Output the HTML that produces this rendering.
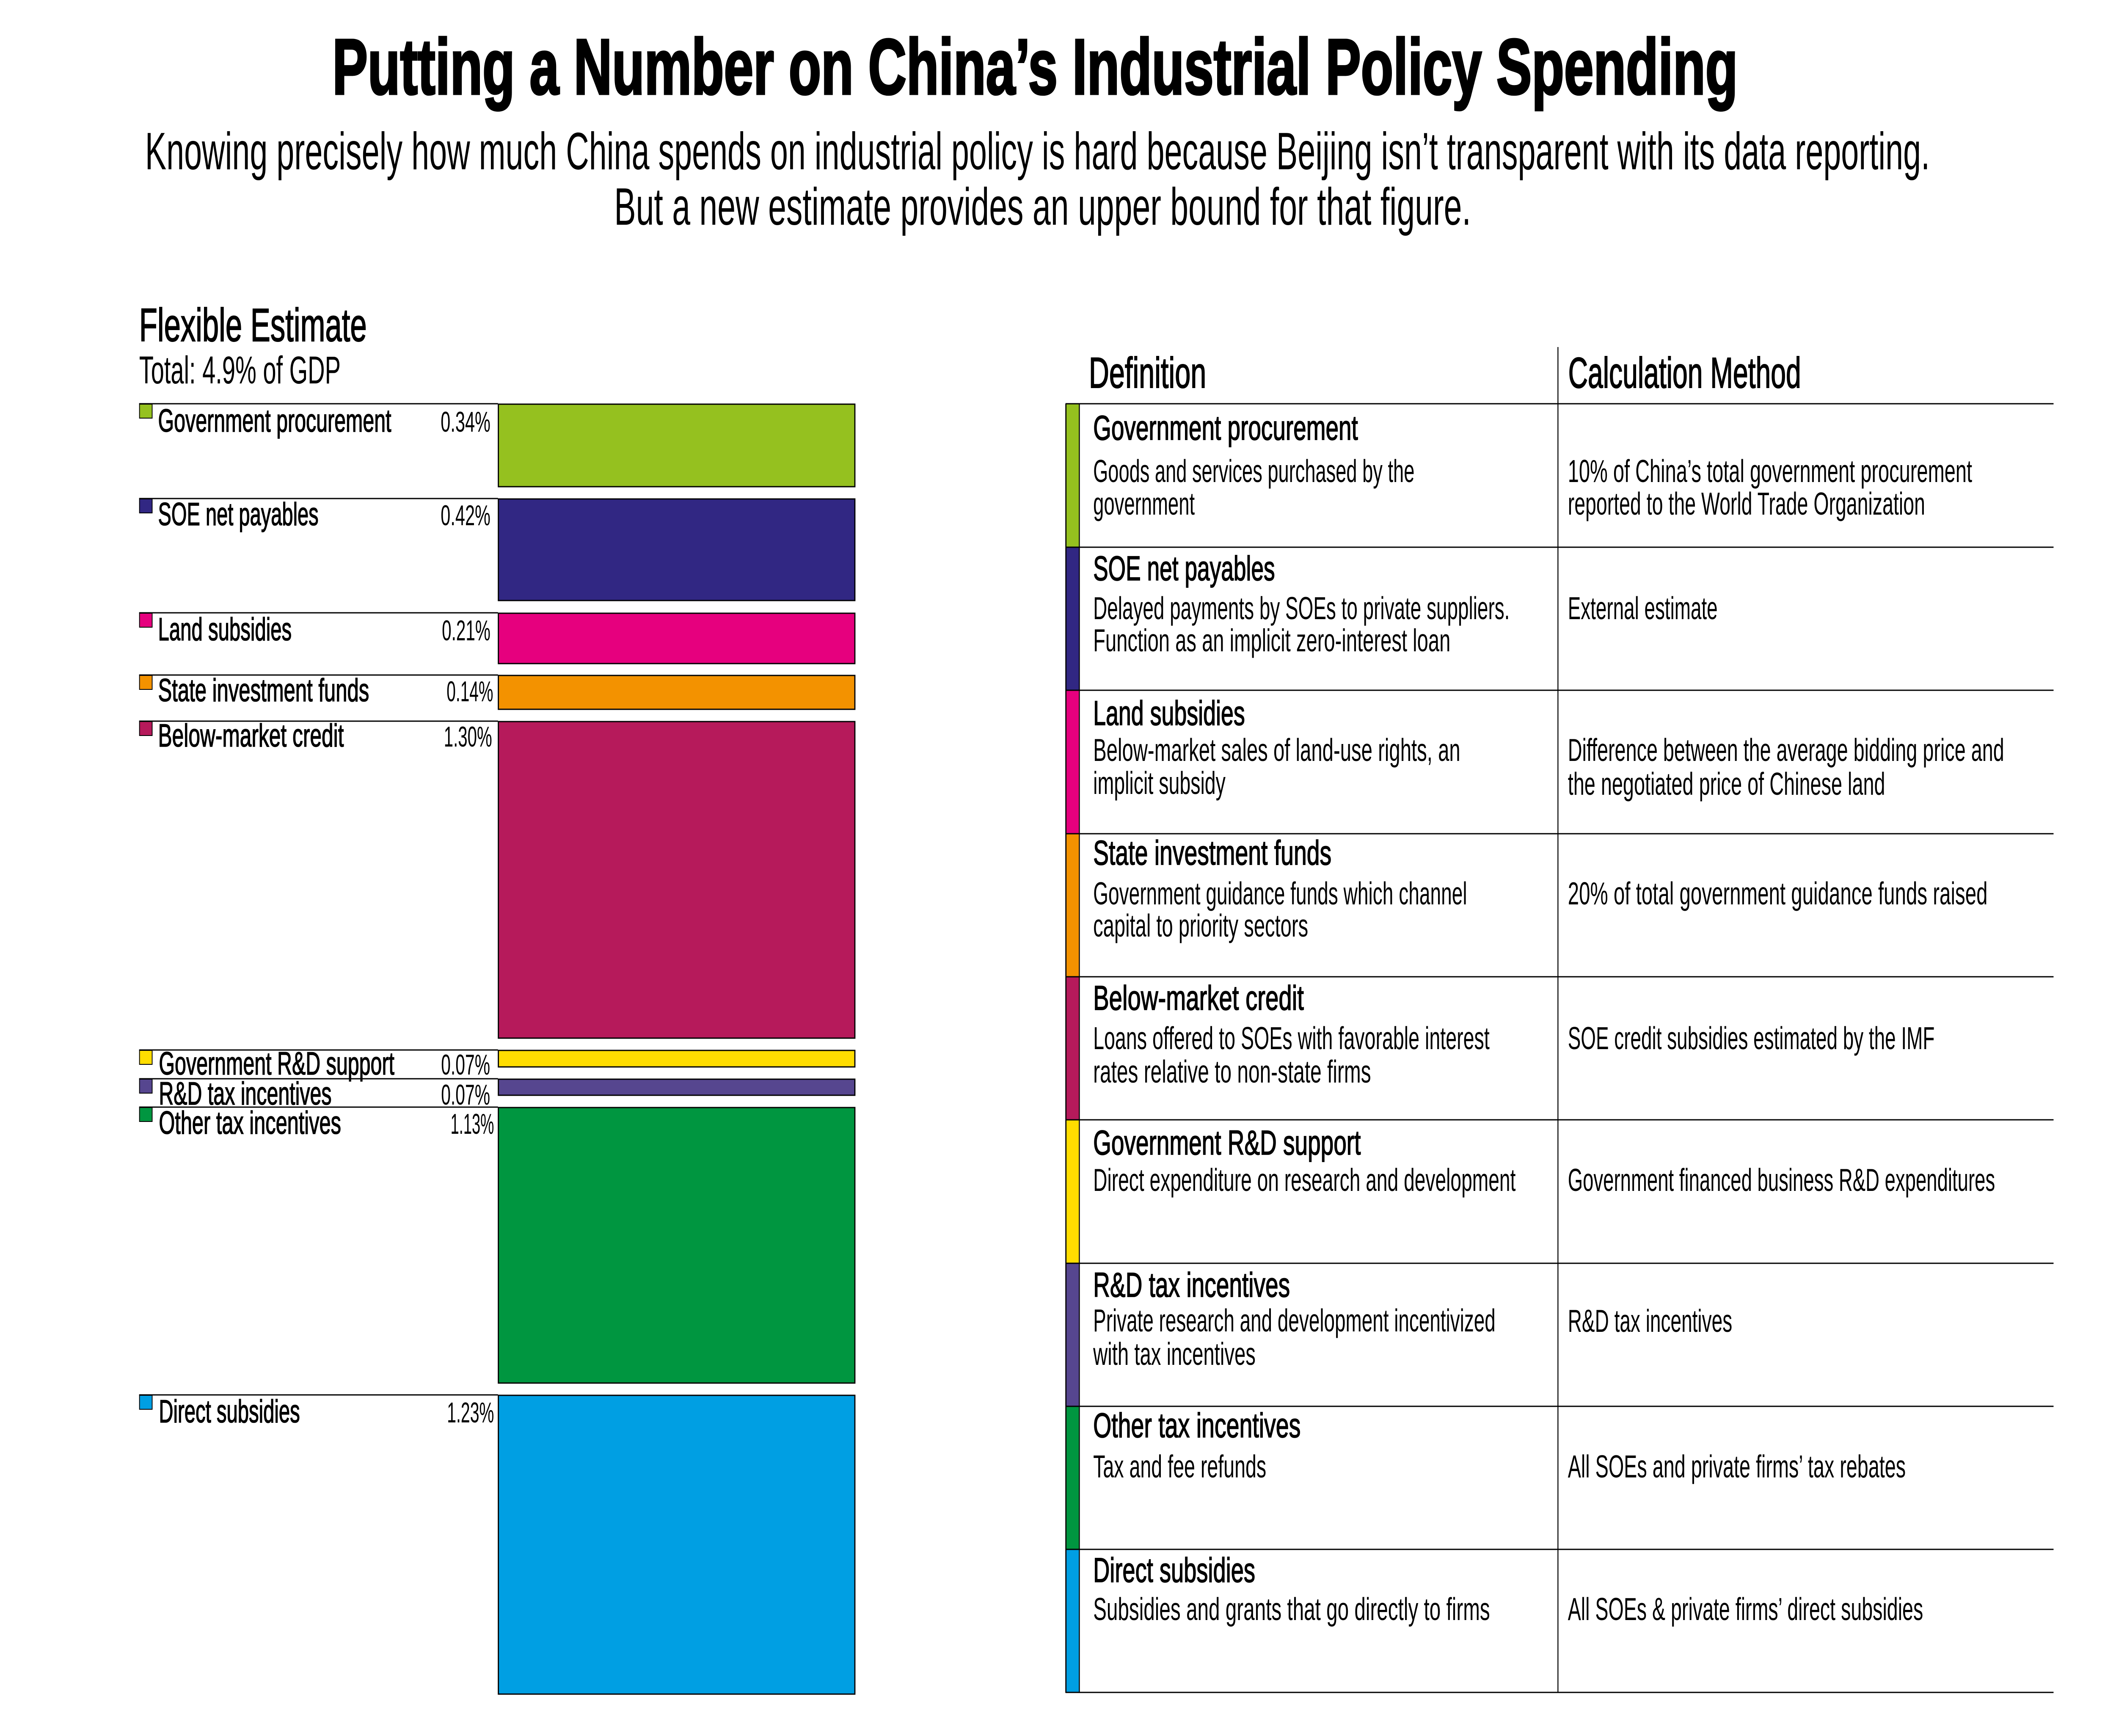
<!DOCTYPE html>
<html>
<head>
<meta charset="utf-8">
<style>
html,body{margin:0;padding:0;background:#fff;width:100%;height:100%;overflow:hidden;}
svg{display:block;width:100vw;height:100vh;position:absolute;left:0;top:0;}
text{font-family:"Liberation Sans Narrow","Liberation Sans",sans-serif;fill:#000;}
.ttl{font-weight:bold;font-size:186px;stroke:#000;stroke-width:5px;}
.sub{font-size:124px;}
.hd{font-size:110px;stroke:#000;stroke-width:2px;}
.tot{font-size:92px;}
.lab{font-size:76px;stroke:#000;stroke-width:1.6px;}
.pct{font-size:68px;}
.th{font-size:102px;stroke:#000;stroke-width:2px;}
.rt{font-size:82px;stroke:#000;stroke-width:1.8px;}
.ds{font-size:75px;}
</style>
</head>
<body>
<svg xmlns="http://www.w3.org/2000/svg" viewBox="0 0 5354 4102" preserveAspectRatio="none">
<rect x="0" y="0" width="5354" height="4102" fill="#fff"/>

<!-- Title & subtitle -->
<text class="ttl" x="841" y="222" textLength="3556" lengthAdjust="spacingAndGlyphs">Putting a Number on China’s Industrial Policy Spending</text>
<text class="sub" x="367" y="400" textLength="4516" lengthAdjust="spacingAndGlyphs">Knowing precisely how much China spends on industrial policy is hard because Beijing isn’t transparent with its data reporting.</text>
<text class="sub" x="1554" y="531" textLength="2168" lengthAdjust="spacingAndGlyphs">But a new estimate provides an upper bound for that figure.</text>

<!-- Left chart headings -->
<text class="hd" x="352" y="806" textLength="576" lengthAdjust="spacingAndGlyphs">Flexible Estimate</text>
<text class="tot" x="352" y="906" textLength="510" lengthAdjust="spacingAndGlyphs">Total: 4.9% of GDP</text>

<!-- Left chart rows -->
<g stroke="#000">
  <line x1="352" y1="954" x2="1260" y2="954" stroke-width="3"/>
  <line x1="352" y1="1178" x2="1260" y2="1178" stroke-width="3"/>
  <line x1="352" y1="1448" x2="1260" y2="1448" stroke-width="3"/>
  <line x1="352" y1="1595" x2="1260" y2="1595" stroke-width="3"/>
  <line x1="352" y1="1704" x2="1260" y2="1704" stroke-width="3"/>
  <line x1="352" y1="2481" x2="1260" y2="2481" stroke-width="3"/>
  <line x1="352" y1="2549" x2="1260" y2="2549" stroke-width="3"/>
  <line x1="352" y1="2616" x2="1260" y2="2616" stroke-width="3"/>
  <line x1="352" y1="3296" x2="1260" y2="3296" stroke-width="3"/>

  <rect x="353" y="955" width="32" height="33" fill="#95C11F" stroke-width="2"/>
  <rect x="353" y="1179" width="32" height="33" fill="#312783" stroke-width="2"/>
  <rect x="353" y="1449" width="32" height="33" fill="#E6007E" stroke-width="2"/>
  <rect x="353" y="1596" width="32" height="33" fill="#F39200" stroke-width="2"/>
  <rect x="353" y="1705" width="32" height="33" fill="#B61A5B" stroke-width="2"/>
  <rect x="353" y="2482" width="32" height="33" fill="#FFDD00" stroke-width="2"/>
  <rect x="353" y="2550" width="32" height="33" fill="#56468F" stroke-width="2"/>
  <rect x="353" y="2617" width="32" height="33" fill="#009640" stroke-width="2"/>
  <rect x="353" y="3297" width="32" height="33" fill="#009FE3" stroke-width="2"/>

  <rect x="1261" y="955" width="902" height="195" fill="#95C11F" stroke-width="3"/>
  <rect x="1261" y="1179" width="902" height="240" fill="#312783" stroke-width="3"/>
  <rect x="1261" y="1449" width="902" height="119" fill="#E6007E" stroke-width="3"/>
  <rect x="1261" y="1596" width="902" height="80" fill="#F39200" stroke-width="3"/>
  <rect x="1261" y="1705" width="902" height="748" fill="#B61A5B" stroke-width="3"/>
  <rect x="1261" y="2482" width="902" height="39" fill="#FFDD00" stroke-width="3"/>
  <rect x="1261" y="2550" width="902" height="38" fill="#56468F" stroke-width="3"/>
  <rect x="1261" y="2617" width="902" height="651" fill="#009640" stroke-width="3"/>
  <rect x="1261" y="3297" width="902" height="706" fill="#009FE3" stroke-width="3"/>
</g>

<!-- left labels -->
<text class="lab" x="400" y="1020" textLength="590" lengthAdjust="spacingAndGlyphs">Government procurement</text>
<text class="lab" x="400" y="1241" textLength="406" lengthAdjust="spacingAndGlyphs">SOE net payables</text>
<text class="lab" x="400" y="1513" textLength="338" lengthAdjust="spacingAndGlyphs">Land subsidies</text>
<text class="lab" x="400" y="1657" textLength="534" lengthAdjust="spacingAndGlyphs">State investment funds</text>
<text class="lab" x="400" y="1764" textLength="470" lengthAdjust="spacingAndGlyphs">Below-market credit</text>
<text class="lab" x="402" y="2539" textLength="596" lengthAdjust="spacingAndGlyphs">Government R&amp;D support</text>
<text class="lab" x="402" y="2610" textLength="437" lengthAdjust="spacingAndGlyphs">R&amp;D tax incentives</text>
<text class="lab" x="402" y="2679" textLength="461" lengthAdjust="spacingAndGlyphs">Other tax incentives</text>
<text class="lab" x="402" y="3361" textLength="357" lengthAdjust="spacingAndGlyphs">Direct subsidies</text>

<!-- percentages -->
<text class="pct" x="1115" y="1020" textLength="126" lengthAdjust="spacingAndGlyphs">0.34%</text>
<text class="pct" x="1115" y="1241" textLength="126" lengthAdjust="spacingAndGlyphs">0.42%</text>
<text class="pct" x="1118" y="1513" textLength="123" lengthAdjust="spacingAndGlyphs">0.21%</text>
<text class="pct" x="1130" y="1657" textLength="118" lengthAdjust="spacingAndGlyphs">0.14%</text>
<text class="pct" x="1123" y="1764" textLength="122" lengthAdjust="spacingAndGlyphs">1.30%</text>
<text class="pct" x="1116" y="2539" textLength="124" lengthAdjust="spacingAndGlyphs">0.07%</text>
<text class="pct" x="1116" y="2610" textLength="124" lengthAdjust="spacingAndGlyphs">0.07%</text>
<text class="pct" x="1140" y="2679" textLength="110" lengthAdjust="spacingAndGlyphs">1.13%</text>
<text class="pct" x="1131" y="3361" textLength="119" lengthAdjust="spacingAndGlyphs">1.23%</text>

<!-- Table -->
<text class="th" x="2755" y="916" textLength="297" lengthAdjust="spacingAndGlyphs">Definition</text>
<text class="th" x="3968" y="916" textLength="589" lengthAdjust="spacingAndGlyphs">Calculation Method</text>

<rect x="2697" y="954" width="34" height="339" fill="#95C11F"/>
<rect x="2697" y="1293" width="34" height="338" fill="#312783"/>
<rect x="2697" y="1631" width="34" height="339" fill="#E6007E"/>
<rect x="2697" y="1970" width="34" height="338" fill="#F39200"/>
<rect x="2697" y="2308" width="34" height="338" fill="#B61A5B"/>
<rect x="2697" y="2646" width="34" height="339" fill="#FFDD00"/>
<rect x="2697" y="2985" width="34" height="338" fill="#56468F"/>
<rect x="2697" y="3323" width="34" height="338" fill="#009640"/>
<rect x="2697" y="3661" width="34" height="338" fill="#009FE3"/>

<g stroke="#000">
  <line x1="2697" y1="954" x2="2697" y2="4000" stroke-width="3"/>
  <line x1="2731" y1="954" x2="2731" y2="4000" stroke-width="2.5"/>
  <line x1="3942" y1="820" x2="3942" y2="4000" stroke-width="2.5"/>
  <line x1="2696" y1="954" x2="5196" y2="954" stroke-width="3"/>
  <line x1="2696" y1="1293" x2="5196" y2="1293" stroke-width="3"/>
  <line x1="2696" y1="1631" x2="5196" y2="1631" stroke-width="3"/>
  <line x1="2696" y1="1970" x2="5196" y2="1970" stroke-width="3"/>
  <line x1="2696" y1="2308" x2="5196" y2="2308" stroke-width="3"/>
  <line x1="2696" y1="2646" x2="5196" y2="2646" stroke-width="3"/>
  <line x1="2696" y1="2985" x2="5196" y2="2985" stroke-width="3"/>
  <line x1="2696" y1="3323" x2="5196" y2="3323" stroke-width="3"/>
  <line x1="2696" y1="3661" x2="5196" y2="3661" stroke-width="3"/>
  <line x1="2696" y1="3999" x2="5196" y2="3999" stroke-width="3"/>
</g>

<!-- Row 1 -->
<text class="rt" x="2766" y="1039" textLength="670" lengthAdjust="spacingAndGlyphs">Government procurement</text>
<text class="ds" x="2766" y="1139" textLength="813" lengthAdjust="spacingAndGlyphs">Goods and services purchased by the</text>
<text class="ds" x="2766" y="1216" textLength="257" lengthAdjust="spacingAndGlyphs">government</text>
<text class="ds" x="3967" y="1139" textLength="1023" lengthAdjust="spacingAndGlyphs">10% of China’s total government procurement</text>
<text class="ds" x="3967" y="1216" textLength="904" lengthAdjust="spacingAndGlyphs">reported to the World Trade Organization</text>

<!-- Row 2 -->
<text class="rt" x="2766" y="1371" textLength="460" lengthAdjust="spacingAndGlyphs">SOE net payables</text>
<text class="ds" x="2766" y="1463" textLength="1054" lengthAdjust="spacingAndGlyphs">Delayed payments by SOEs to private suppliers.</text>
<text class="ds" x="2766" y="1539" textLength="904" lengthAdjust="spacingAndGlyphs">Function as an implicit zero-interest loan</text>
<text class="ds" x="3967" y="1463" textLength="379" lengthAdjust="spacingAndGlyphs">External estimate</text>

<!-- Row 3 -->
<text class="rt" x="2766" y="1713" textLength="384" lengthAdjust="spacingAndGlyphs">Land subsidies</text>
<text class="ds" x="2766" y="1798" textLength="929" lengthAdjust="spacingAndGlyphs">Below-market sales of land-use rights, an</text>
<text class="ds" x="2766" y="1876" textLength="335" lengthAdjust="spacingAndGlyphs">implicit subsidy</text>
<text class="ds" x="3967" y="1798" textLength="1104" lengthAdjust="spacingAndGlyphs">Difference between the average bidding price and</text>
<text class="ds" x="3967" y="1878" textLength="803" lengthAdjust="spacingAndGlyphs">the negotiated price of Chinese land</text>

<!-- Row 4 -->
<text class="rt" x="2766" y="2043" textLength="603" lengthAdjust="spacingAndGlyphs">State investment funds</text>
<text class="ds" x="2766" y="2137" textLength="946" lengthAdjust="spacingAndGlyphs">Government guidance funds which channel</text>
<text class="ds" x="2766" y="2213" textLength="544" lengthAdjust="spacingAndGlyphs">capital to priority sectors</text>
<text class="ds" x="3967" y="2137" textLength="1062" lengthAdjust="spacingAndGlyphs">20% of total government guidance funds raised</text>

<!-- Row 5 -->
<text class="rt" x="2766" y="2386" textLength="533" lengthAdjust="spacingAndGlyphs">Below-market credit</text>
<text class="ds" x="2766" y="2479" textLength="1003" lengthAdjust="spacingAndGlyphs">Loans offered to SOEs with favorable interest</text>
<text class="ds" x="2766" y="2558" textLength="703" lengthAdjust="spacingAndGlyphs">rates relative to non-state firms</text>
<text class="ds" x="3967" y="2479" textLength="928" lengthAdjust="spacingAndGlyphs">SOE credit subsidies estimated by the IMF</text>

<!-- Row 6 -->
<text class="rt" x="2766" y="2728" textLength="677" lengthAdjust="spacingAndGlyphs">Government R&amp;D support</text>
<text class="ds" x="2766" y="2814" textLength="1069" lengthAdjust="spacingAndGlyphs">Direct expenditure on research and development</text>
<text class="ds" x="3967" y="2814" textLength="1081" lengthAdjust="spacingAndGlyphs">Government financed business R&amp;D expenditures</text>

<!-- Row 7 -->
<text class="rt" x="2766" y="3064" textLength="498" lengthAdjust="spacingAndGlyphs">R&amp;D tax incentives</text>
<text class="ds" x="2766" y="3146" textLength="1018" lengthAdjust="spacingAndGlyphs">Private research and development incentivized</text>
<text class="ds" x="2766" y="3225" textLength="411" lengthAdjust="spacingAndGlyphs">with tax incentives</text>
<text class="ds" x="3967" y="3147" textLength="416" lengthAdjust="spacingAndGlyphs">R&amp;D tax incentives</text>

<!-- Row 8 -->
<text class="rt" x="2766" y="3396" textLength="525" lengthAdjust="spacingAndGlyphs">Other tax incentives</text>
<text class="ds" x="2766" y="3491" textLength="438" lengthAdjust="spacingAndGlyphs">Tax and fee refunds</text>
<text class="ds" x="3967" y="3491" textLength="855" lengthAdjust="spacingAndGlyphs">All SOEs and private firms’ tax rebates</text>

<!-- Row 9 -->
<text class="rt" x="2766" y="3738" textLength="410" lengthAdjust="spacingAndGlyphs">Direct subsidies</text>
<text class="ds" x="2766" y="3828" textLength="1004" lengthAdjust="spacingAndGlyphs">Subsidies and grants that go directly to firms</text>
<text class="ds" x="3967" y="3828" textLength="899" lengthAdjust="spacingAndGlyphs">All SOEs &amp; private firms’ direct subsidies</text>
</svg>
</body>
</html>
